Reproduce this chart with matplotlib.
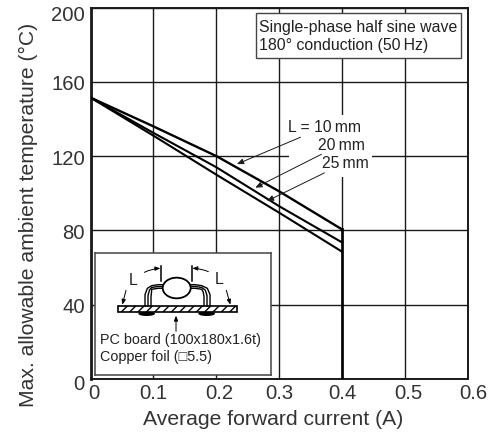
import matplotlib
matplotlib.use('Agg')
import matplotlib.pyplot as plt
from matplotlib.patches import Rectangle, Ellipse
from matplotlib.transforms import ScaledTranslation

plt.rcParams['font.family'] = ['Liberation Sans', 'DejaVu Sans']

# curves
current = [0.0, 0.1, 0.2, 0.3, 0.4]
temp_10mm = [151.5, 136, 120, 101, 80.5]
temp_20mm = [151.5, 132.5, 114, 93, 73.5]
temp_25mm = [151.5, 131, 110, 89.5, 68.5]
end_current = [0.4, 0.4]
end_temp = [80.5, 0]

xticks = [0, 0.1, 0.2, 0.3, 0.4, 0.5, 0.6]
xticklabels = ['0', '0.1', '0.2', '0.3', '0.4', '0.5', '0.6']
yticks = [0, 40, 80, 120, 160, 200]

W, H = 496, 435
ink = '#1a1a1a'
grey = '#333333'
fig = plt.figure(figsize=(W / 100, H / 100), dpi=100)
ax = fig.add_axes([90.5 / W, 1 - 380 / H, 377.5 / W, 371.5 / H])
ax.set_xlim(0, 0.6)
ax.set_ylim(0, 200)
ax.set_xticks(xticks, xticklabels)
ax.set_yticks(yticks)
ax.tick_params(length=0, labelsize=14.6, colors=grey, pad=4)
ax.tick_params(axis='x', pad=3)
ax.grid(True, color=ink, lw=1.0)
ax.set_axisbelow(True)
for s in ax.spines.values():
    s.set_linewidth(1.4)
    s.set_color(ink)
ax.spines['left'].set_linewidth(2.0)
ax.set_xlabel('Average forward current (A)', fontsize=15.2, color=grey)
ax.set_ylabel('Max. allowable ambient temperature (\u00b0C)', fontsize=15.2, color=grey)
ax.xaxis.set_label_coords((273 - 90.5) / 377.5, -(420 - 380) / 371.5)
ax.xaxis.label.set_va('center')
ax.yaxis.set_label_coords((28 - 90.5) / 377.5, 1 - (215 - 8.5) / 371.5)
ax.yaxis.label.set_va('center')

# nudge the few tick labels that sit off their grid lines
def nudge(label, dx, dy):
    label.set_transform(label.get_transform() + ScaledTranslation(dx / 100, dy / 100, fig.dpi_scale_trans))

xlabs = ax.get_xticklabels()
ylabs = ax.get_yticklabels()
nudge(xlabs[0], 3, 0)
nudge(xlabs[2], 3, 0)
nudge(xlabs[5], 3, 0)
nudge(xlabs[6], 5, 0)
nudge(ylabs[5], 0, -5)
nudge(ylabs[0], 0, -2)

# white patch where the grid is broken behind the L labels
ax.add_patch(Rectangle((0.315, 109), 0.133, 33, fc='white', ec='none', zorder=1.5))

ax.plot(current, temp_10mm, color='black', lw=1.7, zorder=3)
ax.plot(current, temp_20mm, color='black', lw=1.5, zorder=3)
ax.plot(current, temp_25mm, color='black', lw=1.5, zorder=3)
ax.plot(end_current, end_temp, color='black', lw=1.9, zorder=3)

arrow = dict(arrowstyle='-|>,head_width=0.15,head_length=0.35', color=ink, lw=0.7, shrinkA=0, shrinkB=0)
ax.annotate('L = 10\u2009mm', xy=(0.2328, 115.7), xytext=(0.3145, 135.7), fontsize=11.3, color='#222222',
            va='center', ha='left', arrowprops=arrow, zorder=4)
ax.annotate('20\u2009mm', xy=(0.262, 103), xytext=(0.362, 126.5), fontsize=11.3, color='#222222',
            va='center', ha='left', arrowprops=arrow, zorder=4)
ax.annotate('25\u2009mm', xy=(0.2805, 95.8), xytext=(0.368, 116.5), fontsize=11.3, color='#222222',
            va='center', ha='left', arrowprops=arrow, zorder=4)

# conditions box
ax.add_patch(Rectangle((0.2635, 172.7), 0.326, 24.3, fc='white', ec='#444444', lw=1.0, zorder=4))
ax.text(0.2685, 184.9, 'Single-phase half sine wave\n180\u00b0 conduction (50\u2009Hz)', fontsize=11.4,
        color='#222222', va='center', ha='left', linespacing=1.3, zorder=5)

# inset drawing, coordinates in zoomed pixels of the box
inset = fig.add_axes([95 / W, 1 - 376 / H, 175.7 / W, 122 / H], zorder=5)
inset.set_xlim(0, 527)
inset.set_ylim(366, 0)
inset.set_xticks([])
inset.set_yticks([])
for s in inset.spines.values():
    s.set_linewidth(1.1)
    s.set_color('#444444')

inset.add_patch(Rectangle((70, 158), 355, 20, fc='white', ec='black', lw=1.2, hatch='////', zorder=2))
inset.add_patch(Ellipse((155, 182), 50, 14, fc='black', ec='none', zorder=1))
inset.add_patch(Ellipse((335, 182), 50, 14, fc='black', ec='none', zorder=1))
inset.add_patch(Ellipse((245, 105), 84, 62, fc='white', ec='black', lw=1.3, zorder=3))
for off in (0, 9, 18):
    inset.plot([208, 190, 170, 157 + off * 0.7, 150 + off, 150 + off],
               [95 + off * 0.6, 95 + off * 0.6, 98 + off * 0.6, 106 + off * 0.6, 125 + off * 0.3, 158],
               color='black', lw=1.0, zorder=2)
    inset.plot([282, 300, 320, 337 - off * 0.7, 345 - off, 345 - off],
               [95 + off * 0.6, 95 + off * 0.6, 98 + off * 0.6, 106 + off * 0.6, 125 + off * 0.3, 158],
               color='black', lw=1.0, zorder=2)
inset.plot([198, 198], [38, 84], color='black', lw=1.1)
inset.plot([290, 290], [38, 84], color='black', lw=1.1)
small = dict(arrowstyle='-|>,head_width=0.12,head_length=0.3', color='black', lw=0.7, shrinkA=0, shrinkB=0)
inset.annotate('', xy=(196, 46), xytext=(148, 58), arrowprops=dict(small, connectionstyle='arc3,rad=-0.1'))
inset.annotate('', xy=(292, 46), xytext=(340, 56), arrowprops=dict(small, connectionstyle='arc3,rad=0.1'))
inset.annotate('', xy=(82, 155), xytext=(93, 112), arrowprops=small)
inset.annotate('', xy=(406, 155), xytext=(394, 112), arrowprops=small)
inset.annotate('', xy=(243, 188), xytext=(243, 235), arrowprops=small)
inset.text(115, 80, 'L', fontsize=11.5, color='#222222', ha='center', va='center')
inset.text(372, 76, 'L', fontsize=11.5, color='#222222', ha='center', va='center')
inset.text(14, 258, 'PC board (100x180x1.6t)', fontsize=10.4, color='#222222', va='center')
inset.text(14, 310, 'Copper foil (\u25a15.5)', fontsize=10.4, color='#222222', va='center')

fig.savefig('out.png', dpi=100)
